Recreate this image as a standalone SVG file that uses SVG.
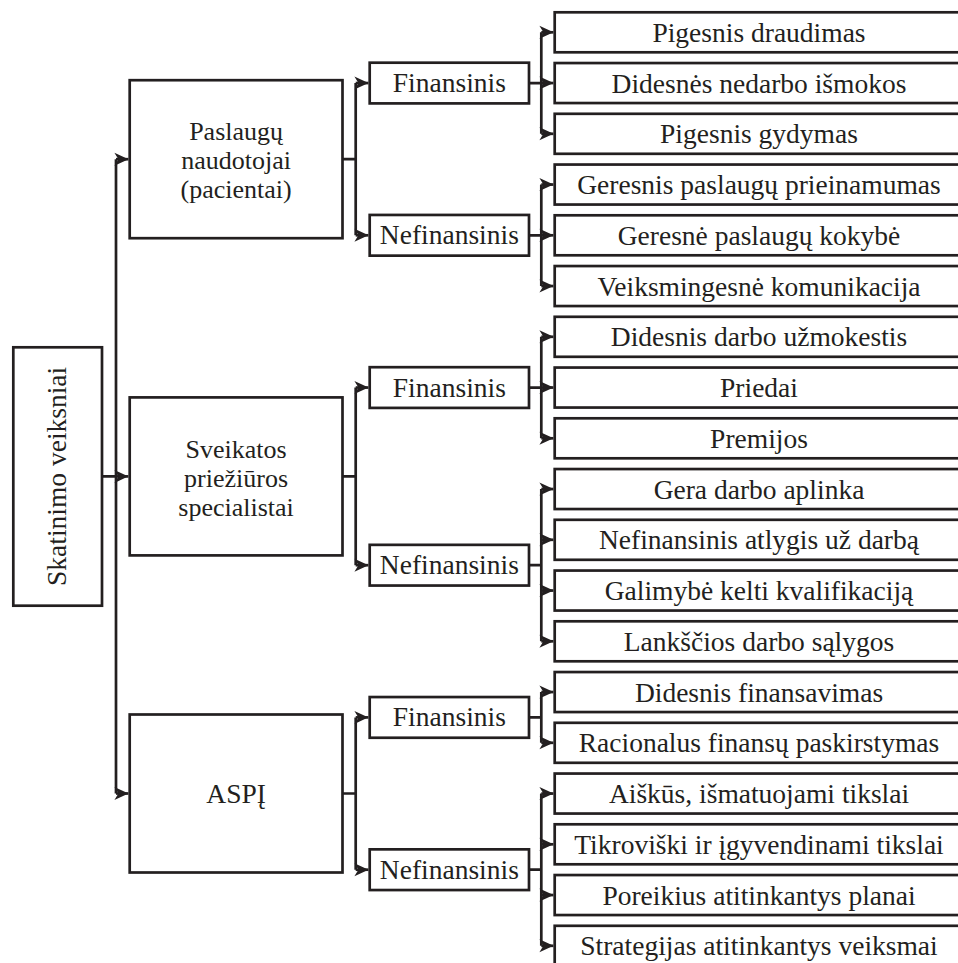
<svg xmlns="http://www.w3.org/2000/svg" width="958" height="963" viewBox="0 0 958 963">
  <style>
    .box { fill: #ffffff; stroke: #231f20; stroke-width: 2.7; }
    .wire { fill: none; stroke: #231f20; stroke-width: 2.7; }
    .arrow { fill: none; stroke: #231f20; stroke-width: 2.7; marker-end: url(#head); }
    text { font-family: "Liberation Serif", "Times New Roman", serif; font-size: 27.5px; fill: #231f20; text-anchor: middle; }
    text.multi { font-size: 26px; }
  </style>
  <defs>
    <marker id="head" markerUnits="userSpaceOnUse" viewBox="0 0 14 14" refX="14" refY="7" markerWidth="14" markerHeight="14" orient="auto">
      <path d="M0,0.5 L14,7 L0,13.5 L4,7 Z" fill="#231f20"/>
    </marker>
  </defs>

  <!-- connectors -->
  <g id="connectors">
    <!-- root to first level -->
    <path class="wire" d="M102,476.4 H116 M116,159.2 V793.5"/>
    <path class="arrow" d="M116,159.2 H128.4"/>
    <path class="arrow" d="M116,476.4 H128.4"/>
    <path class="arrow" d="M116,793.5 H128.4"/>

    <!-- first level to second level -->
    <path class="wire" d="M342.5,159.2 H355.7 M355.7,83.05 V235.3"/>
    <path class="arrow" d="M355.7,83.05 H368.4"/>
    <path class="arrow" d="M355.7,235.3 H368.4"/>
    <path class="wire" d="M342.5,476.4 H355.7 M355.7,387.55 V565.2"/>
    <path class="arrow" d="M355.7,387.55 H368.4"/>
    <path class="arrow" d="M355.7,565.2 H368.4"/>
    <path class="wire" d="M342.5,793.5 H355.7 M355.7,717.4 V869.7"/>
    <path class="arrow" d="M355.7,717.4 H368.4"/>
    <path class="arrow" d="M355.7,869.7 H368.4"/>

    <!-- second level to leaves -->
    <path class="wire" d="M529,83.05 H541.3 M541.3,32.3 V133.8"/>
    <path class="arrow" d="M541.3,32.3 H553.4"/>
    <path class="arrow" d="M541.3,83.05 H553.4"/>
    <path class="arrow" d="M541.3,133.8 H553.4"/>

    <path class="wire" d="M529,235.3 H541.3 M541.3,184.55 V286.05"/>
    <path class="arrow" d="M541.3,184.55 H553.4"/>
    <path class="arrow" d="M541.3,235.3 H553.4"/>
    <path class="arrow" d="M541.3,286.05 H553.4"/>

    <path class="wire" d="M529,387.55 H541.3 M541.3,336.8 V438.3"/>
    <path class="arrow" d="M541.3,336.8 H553.4"/>
    <path class="arrow" d="M541.3,387.55 H553.4"/>
    <path class="arrow" d="M541.3,438.3 H553.4"/>

    <path class="wire" d="M529,565.2 H541.3 M541.3,489.05 V641.3"/>
    <path class="arrow" d="M541.3,489.05 H553.4"/>
    <path class="arrow" d="M541.3,539.8 H553.4"/>
    <path class="arrow" d="M541.3,590.55 H553.4"/>
    <path class="arrow" d="M541.3,641.3 H553.4"/>

    <path class="wire" d="M529,717.4 H541.3 M541.3,692.05 V742.8"/>
    <path class="arrow" d="M541.3,692.05 H553.4"/>
    <path class="arrow" d="M541.3,742.8 H553.4"/>

    <path class="wire" d="M529,869.7 H541.3 M541.3,793.55 V945.8"/>
    <path class="arrow" d="M541.3,793.55 H553.4"/>
    <path class="arrow" d="M541.3,844.3 H553.4"/>
    <path class="arrow" d="M541.3,895.05 H553.4"/>
    <path class="arrow" d="M541.3,945.8 H553.4"/>
  </g>

  <!-- root -->
  <g id="root">
    <rect class="box" x="13.3" y="347.3" width="88.7" height="258.4"/>
    <text transform="translate(66,476.4) rotate(-90)">Skatinimo veiksniai</text>
  </g>

  <!-- first level -->
  <g id="paslaugu-naudotojai">
    <rect class="box" x="129.7" y="80.2" width="212.8" height="158"/>
    <text class="multi" x="236.1" y="139.5"><tspan x="236.1">Paslaugų</tspan><tspan x="236.1" dy="29">naudotojai</tspan><tspan x="236.1" dy="29">(pacientai)</tspan></text>
  </g>
  <g id="sveikatos-specialistai">
    <rect class="box" x="129.7" y="397.4" width="212.8" height="158"/>
    <text class="multi" x="236.1" y="457.5"><tspan x="236.1">Sveikatos</tspan><tspan x="236.1" dy="29">priežiūros</tspan><tspan x="236.1" dy="29">specialistai</tspan></text>
  </g>
  <g id="aspi">
    <rect class="box" x="129.7" y="714.5" width="212.8" height="158"/>
    <text x="236.1" y="802.5">ASPĮ</text>
  </g>

  <!-- second level -->
  <g id="g1-finansinis">
    <rect class="box" x="369.7" y="62.7" width="159.3" height="40.7"/>
    <text x="449.35" y="92">Finansinis</text>
  </g>
  <g id="g1-nefinansinis">
    <rect class="box" x="369.7" y="214.95" width="159.3" height="40.7"/>
    <text x="449.35" y="244.3">Nefinansinis</text>
  </g>
  <g id="g2-finansinis">
    <rect class="box" x="369.7" y="367.2" width="159.3" height="40.7"/>
    <text x="449.35" y="396.5">Finansinis</text>
  </g>
  <g id="g2-nefinansinis">
    <rect class="box" x="369.7" y="544.85" width="159.3" height="40.7"/>
    <text x="449.35" y="574.2">Nefinansinis</text>
  </g>
  <g id="g3-finansinis">
    <rect class="box" x="369.7" y="697.05" width="159.3" height="40.7"/>
    <text x="449.35" y="726.4">Finansinis</text>
  </g>
  <g id="g3-nefinansinis">
    <rect class="box" x="369.7" y="849.35" width="159.3" height="40.7"/>
    <text x="449.35" y="878.7">Nefinansinis</text>
  </g>

  <!-- leaves -->
  <g id="leaf-1"><rect class="box" x="554.7" y="12.3" width="420" height="40"/><text x="759" y="41.8">Pigesnis draudimas</text></g>
  <g id="leaf-2"><rect class="box" x="554.7" y="63.05" width="420" height="40"/><text x="759" y="92.55">Didesnės nedarbo išmokos</text></g>
  <g id="leaf-3"><rect class="box" x="554.7" y="113.8" width="420" height="40"/><text x="759" y="143.3">Pigesnis gydymas</text></g>
  <g id="leaf-4"><rect class="box" x="554.7" y="164.55" width="420" height="40"/><text x="759" y="194.05">Geresnis paslaugų prieinamumas</text></g>
  <g id="leaf-5"><rect class="box" x="554.7" y="215.3" width="420" height="40"/><text x="759" y="244.8">Geresnė paslaugų kokybė</text></g>
  <g id="leaf-6"><rect class="box" x="554.7" y="266.05" width="420" height="40"/><text x="759" y="295.55">Veiksmingesnė komunikacija</text></g>
  <g id="leaf-7"><rect class="box" x="554.7" y="316.8" width="420" height="40"/><text x="759" y="346.3">Didesnis darbo užmokestis</text></g>
  <g id="leaf-8"><rect class="box" x="554.7" y="367.55" width="420" height="40"/><text x="759" y="397.05">Priedai</text></g>
  <g id="leaf-9"><rect class="box" x="554.7" y="418.3" width="420" height="40"/><text x="759" y="447.8">Premijos</text></g>
  <g id="leaf-10"><rect class="box" x="554.7" y="469.05" width="420" height="40"/><text x="759" y="498.55">Gera darbo aplinka</text></g>
  <g id="leaf-11"><rect class="box" x="554.7" y="519.8" width="420" height="40"/><text x="759" y="549.3">Nefinansinis atlygis už darbą</text></g>
  <g id="leaf-12"><rect class="box" x="554.7" y="570.55" width="420" height="40"/><text x="759" y="600.05">Galimybė kelti kvalifikaciją</text></g>
  <g id="leaf-13"><rect class="box" x="554.7" y="621.3" width="420" height="40"/><text x="759" y="650.8">Lankščios darbo sąlygos</text></g>
  <g id="leaf-14"><rect class="box" x="554.7" y="672.05" width="420" height="40"/><text x="759" y="701.55">Didesnis finansavimas</text></g>
  <g id="leaf-15"><rect class="box" x="554.7" y="722.8" width="420" height="40"/><text x="759" y="752.3">Racionalus finansų paskirstymas</text></g>
  <g id="leaf-16"><rect class="box" x="554.7" y="773.55" width="420" height="40"/><text x="759" y="803.05">Aiškūs, išmatuojami tikslai</text></g>
  <g id="leaf-17"><rect class="box" x="554.7" y="824.3" width="420" height="40"/><text x="759" y="853.8">Tikroviški ir įgyvendinami tikslai</text></g>
  <g id="leaf-18"><rect class="box" x="554.7" y="875.05" width="420" height="40"/><text x="759" y="904.55">Poreikius atitinkantys planai</text></g>
  <g id="leaf-19"><rect class="box" x="554.7" y="925.8" width="420" height="40"/><text x="759" y="955.3">Strategijas atitinkantys veiksmai</text></g>
</svg>
